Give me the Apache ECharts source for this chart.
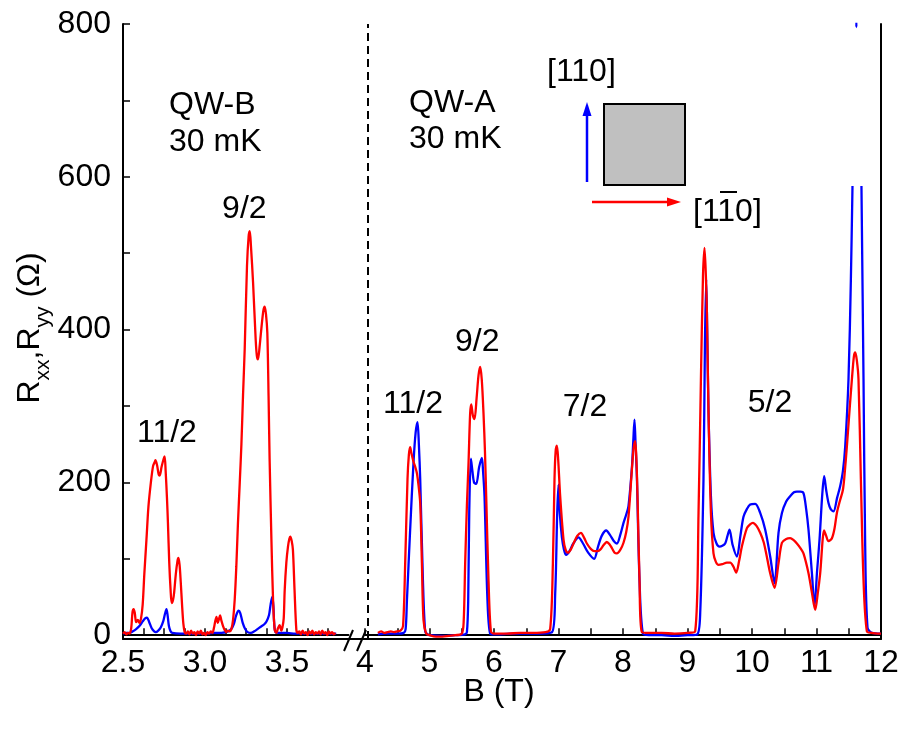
<!DOCTYPE html>
<html>
<head>
<meta charset="utf-8">
<script src="https://cdn.jsdelivr.net/npm/echarts@6/dist/echarts.min.js"></script>
<style>
html, body { margin: 0; padding: 0; background: #fff; }
#chart { width: 903px; height: 734px; }
</style>
</head>
<body>
<div id="chart"></div>
<script>
// ---- QW-B (30 mK), low-field window ----
const qwbRedField = [2.500,2.510,2.520,2.530,2.540,2.550,2.558,2.565,2.572,2.580,2.590,2.600,2.610,2.620,2.630,2.643,2.655,2.670,2.683,2.692,2.698,2.708,2.718,2.724,2.735,2.748,2.754,2.760,2.768,2.774,2.782,2.790,2.797,2.805,2.812,2.822,2.832,2.838,2.845,2.852,2.860,2.868,2.876,2.885,2.895,2.905,2.915,2.925,2.935,2.945,2.955,2.965,2.975,2.985,2.995,3.005,3.015,3.025,3.035,3.045,3.055,3.062,3.070,3.078,3.085,3.092,3.100,3.110,3.120,3.130,3.140,3.150,3.161,3.171,3.181,3.191,3.201,3.212,3.222,3.232,3.242,3.256,3.266,3.273,3.280,3.293,3.309,3.316,3.323,3.334,3.344,3.356,3.364,3.372,3.380,3.388,3.394,3.405,3.415,3.425,3.435,3.445,3.455,3.465,3.472,3.480,3.486,3.496,3.506,3.514,3.520,3.528,3.536,3.546,3.557,3.565,3.575,3.585,3.595,3.605,3.615,3.625,3.635,3.645,3.655,3.665,3.675,3.685,3.695,3.705,3.715,3.725,3.735,3.745,3.755,3.765,3.775,3.785,3.795];
const qwbRedRes   = [2,4,1,3,2,9,30,34,29,17,20,16,22,40,80,125,168,200,221,226,229,222,210,209,220,231,234,215,180,147,95,60,42,46,56,80,97,101,92,70,40,15,4,2,5,1,6,2,4,0,5,2,6,1,3,0,4,2,5,3,10,18,24,16,21,26,19,12,7,4,6,5,8,20,46,90,147,200,250,315,374,483,522,529,510,462,387,366,361,380,402,425,430,420,396,308,230,125,46,7,3,9,13,6,10,22,59,95,116,126,129,124,112,59,7,3,5,1,6,2,4,0,5,2,6,1,4,2,5,1,6,2,4,0,5,2,4,1,3];

const qwbBlueField = [2.500,2.520,2.540,2.560,2.580,2.600,2.620,2.635,2.646,2.660,2.675,2.690,2.700,2.715,2.730,2.745,2.755,2.765,2.772,2.780,2.790,2.800,2.850,2.900,2.950,3.000,3.050,3.100,3.140,3.160,3.175,3.190,3.205,3.215,3.230,3.245,3.260,3.280,3.300,3.320,3.340,3.360,3.375,3.390,3.400,3.410,3.417,3.422,3.430,3.450,3.500,3.550,3.600,3.700,3.800];
const qwbBlueRes   = [2,3,3,5,8,12,18,22,23,17,9,5,4,6,10,18,27,34,26,12,5,3,2,2,2,2,3,3,5,8,14,26,32,29,16,8,4,3,5,8,11,14,18,26,40,50,38,15,4,3,3,2,2,2,2];

// ---- QW-A (30 mK), high-field window ----
const qwaRedField = [4.200,4.250,4.300,4.350,4.400,4.450,4.500,4.550,4.590,4.623,4.659,4.680,4.700,4.720,4.752,4.780,4.805,4.830,4.856,4.882,4.907,4.949,5.000,5.100,5.200,5.300,5.400,5.500,5.530,5.553,5.580,5.605,5.630,5.647,5.672,5.698,5.730,5.760,5.786,5.810,5.837,5.860,5.879,5.915,5.952,6.000,6.200,6.400,6.600,6.800,6.871,6.913,6.938,6.955,6.975,6.995,7.026,7.078,7.110,7.146,7.190,7.233,7.290,7.347,7.400,7.440,7.500,7.558,7.600,7.647,7.700,7.750,7.790,7.828,7.870,7.905,7.960,8.008,8.050,8.085,8.138,8.165,8.189,8.208,8.225,8.256,8.293,8.400,8.600,8.800,9.000,9.119,9.171,9.208,9.240,9.264,9.285,9.301,9.326,9.363,9.403,9.440,9.481,9.540,9.611,9.662,9.710,9.755,9.800,9.843,9.921,9.970,10.014,10.070,10.127,10.180,10.220,10.282,10.349,10.411,10.464,10.530,10.592,10.650,10.696,10.750,10.798,10.876,10.930,10.980,11.020,11.057,11.119,11.150,11.186,11.239,11.280,11.316,11.360,11.409,11.440,11.471,11.510,11.549,11.580,11.600,11.625,11.651,11.688,11.729,11.781,11.850,11.950,12.000];
const qwaRedRes   = [3,5,3,4,5,4,5,6,12,94,204,236,246,238,227,220,212,196,173,95,20,2,0,-2,-2,-1,0,2,18,94,170,225,290,302,288,283,310,340,351,335,291,240,182,72,5,2,2,3,3,4,8,94,204,240,248,230,182,125,112,108,112,120,130,134,127,120,113,110,110,112,118,122,119,114,108,107,112,121,135,155,217,245,254,230,182,72,4,3,3,2,3,5,160,335,470,507,470,422,291,160,107,96,92,93,95,95,90,82,97,116,140,145,147,143,134,122,107,81,62,94,121,126,127,124,120,114,107,81,55,33,55,81,137,130,123,127,140,160,175,190,215,247,292,335,365,370,360,335,204,72,5,3,2,2];

const qwaBlueField = [4.200,4.300,4.400,4.500,4.600,4.630,4.650,4.700,4.752,4.785,4.814,4.835,4.856,4.898,4.933,4.970,5.000,5.200,5.400,5.550,5.580,5.600,5.616,5.642,5.665,5.690,5.724,5.770,5.812,5.830,5.853,5.899,5.940,6.000,6.300,6.600,6.900,6.949,6.980,7.000,7.020,7.053,7.085,7.119,7.170,7.230,7.310,7.380,7.460,7.553,7.610,7.670,7.740,7.800,7.860,7.905,7.960,8.008,8.050,8.085,8.138,8.160,8.178,8.195,8.215,8.256,8.309,8.400,8.600,8.800,9.000,9.150,9.197,9.248,9.270,9.290,9.305,9.326,9.363,9.403,9.450,9.496,9.540,9.584,9.620,9.651,9.700,9.766,9.820,9.868,9.920,9.972,10.050,10.127,10.205,10.282,10.349,10.411,10.464,10.530,10.592,10.650,10.696,10.750,10.798,10.840,10.876,10.930,10.969,11.010,11.047,11.090,11.119,11.150,11.186,11.220,11.264,11.320,11.367,11.410,11.445,11.496,11.533,11.558,11.600,11.613,11.618,11.623,11.650,11.697,11.729,11.755,11.791,11.860,12.000];
const qwaBlueRes   = [1,2,2,2,3,8,45,138,226,265,279,250,204,72,5,1,0,-1,0,1,4,45,160,231,215,200,198,220,232,215,182,45,2,1,2,2,4,55,160,197,160,128,112,105,110,120,128,120,108,100,115,130,137,131,123,120,132,147,158,169,219,255,282,250,208,72,2,0,0,-1,0,1,29,204,380,466,400,291,182,134,120,116,117,120,130,138,118,103,130,155,165,171,172,160,138,103,68,134,160,175,182,187,188,188,186,165,138,80,38,85,125,185,208,190,173,165,162,180,195,215,247,335,466,588,'-',820,796,820,'-',588,335,116,10,3,2];

// ---- axis ticks and labels ----
const lowFieldLabels  = [2.5, 3.0, 3.5];
const lowFieldTicks   = [2.5,2.625,2.75,2.875,3.0,3.125,3.25,3.375,3.5,3.625,3.75];
const highFieldLabels = [4,5,6,7,8,9,10,11,12];
const highFieldTicks  = [4,4.5,5,5.5,6,6.5,7,7.5,8,8.5,9,9.5,10,10.5,11,11.5,12];
const resLabels = [0, 200, 400, 600, 800];
const resTicks  = [0, 100, 200, 300, 400, 500, 600, 700, 800];

// ---- filling-factor annotations: [text, field, resistance] ----
const qwbPeakLabels = [['11/2', 2.768, 264], ['9/2', 3.24, 557]];
const qwaPeakLabels = [['11/2', 4.745, 303], ['9/2', 5.74, 383], ['7/2', 7.41, 298], ['5/2', 10.28, 304]];

const RED = '#ff0000';
const BLUE = '#0000ff';
const FONT = '"Liberation Sans", Arial, Helvetica, sans-serif';
const FS = 32;

const pairs = (b, r) => b.map((v, i) => [v, r[i]]);

const chart = echarts.init(document.getElementById('chart'), null, { renderer: 'canvas' });

const axisLineStyle = { show: true, lineStyle: { color: '#000', width: 2 } };
const tickStyle = { lineStyle: { color: '#000', width: 1.5 } };

const plainText = (x, y, text, align) => ({
  type: 'text', x, y, z: 20,
  style: {
    text, font: FS + 'px ' + FONT, fill: '#000',
    textAlign: align, textVerticalAlign: 'middle', align, verticalAlign: 'middle'
  }
});

const graphics = [
  // axis break marks
  { type: 'line', shape: { x1: 344, y1: 651, x2: 353, y2: 630 }, style: { stroke: '#000', lineWidth: 2 }, z: 10 },
  { type: 'line', shape: { x1: 357, y1: 651, x2: 366, y2: 630 }, style: { stroke: '#000', lineWidth: 2 }, z: 10 },
  // axis titles
  plainText(499, 692, 'B (T)', 'center'),
  { type: 'text', x: 32, y: 328, rotation: Math.PI / 2,
    style: {
      text: '{m|R}{s|xx}{m|,R}{s|yy}{m| (Ω)}',
      fill: '#000', textAlign: 'center', textVerticalAlign: 'middle', align: 'center', verticalAlign: 'middle',
      rich: {
        m: { fontFamily: FONT, fontSize: FS, lineHeight: 36, verticalAlign: 'top', fill: '#000' },
        s: { fontFamily: FONT, fontSize: 21, lineHeight: 22, padding: [19, 0, 0, 0], verticalAlign: 'top', fill: '#000' }
      }
    } },
  // sample annotations
  plainText(169, 105, 'QW-B', 'left'),
  plainText(169, 142, '30 mK', 'left'),
  plainText(409, 103, 'QW-A', 'left'),
  plainText(409, 139, '30 mK', 'left'),
  // crystal orientation sketch
  { type: 'rect', shape: { x: 604, y: 104, width: 81, height: 81 }, style: { fill: '#c0c0c0', stroke: '#000', lineWidth: 2 } },
  { type: 'line', shape: { x1: 587, y1: 182, x2: 587, y2: 112 }, style: { stroke: BLUE, lineWidth: 2.5 } },
  { type: 'polygon', shape: { points: [[587, 102], [582.5, 116], [591.5, 116]] }, style: { fill: BLUE } },
  { type: 'line', shape: { x1: 592, y1: 202, x2: 670, y2: 202 }, style: { stroke: RED, lineWidth: 2.5 } },
  { type: 'polygon', shape: { points: [[681, 202], [667, 197.5], [667, 206.5]] }, style: { fill: RED } },
  plainText(547, 72, '[110]', 'left'),
  plainText(693, 212, '[110]', 'left'),
  { type: 'line', shape: { x1: 720, y1: 192, x2: 737, y2: 192 }, style: { stroke: '#000', lineWidth: 2 } }
];

const option = {
  animation: false,
  backgroundColor: '#fff',
  grid: [
    { left: 123, top: 24, width: 225.5, bottom: 95, containLabel: false },
    { left: 365, top: 24, right: 22, bottom: 95, containLabel: false },
    { left: 123, top: 24, right: 22, bottom: 95, containLabel: false }
  ],
  xAxis: [
    {
      type: 'value', gridIndex: 0, min: 2.5, max: 3.875,
      axisLine: axisLineStyle,
      axisTick: { show: true, inside: true, length: 7, customValues: lowFieldTicks, ...tickStyle },
      axisLabel: { show: true, customValues: lowFieldLabels, formatter: v => v.toFixed(1),
                   fontFamily: FONT, fontSize: FS, color: '#000', margin: 8 },
      splitLine: { show: false }
    },
    {
      type: 'value', gridIndex: 1, min: 4, max: 12,
      axisLine: axisLineStyle,
      axisTick: { show: true, inside: true, length: 7, customValues: highFieldTicks, ...tickStyle },
      axisLabel: { show: true, customValues: highFieldLabels, formatter: v => String(v),
                   fontFamily: FONT, fontSize: FS, color: '#000', margin: 8 },
      splitLine: { show: false }
    },
    {
      type: 'value', gridIndex: 2, min: 0, max: 1, position: 'top',
      axisLine: axisLineStyle, axisTick: { show: false }, axisLabel: { show: false },
      splitLine: { show: false }
    }
  ],
  yAxis: [
    {
      type: 'value', gridIndex: 0, min: -5, max: 800,
      axisLine: axisLineStyle,
      axisTick: { show: true, inside: true, length: 7, customValues: resTicks, ...tickStyle },
      axisLabel: { show: true, customValues: resLabels, fontFamily: FONT, fontSize: FS, color: '#000', margin: 12 },
      splitLine: { show: false }
    },
    {
      type: 'value', gridIndex: 1, min: -5, max: 800, position: 'right',
      axisLine: axisLineStyle, axisTick: { show: false }, axisLabel: { show: false },
      splitLine: { show: false }
    },
    { type: 'value', gridIndex: 2, min: 0, max: 1, show: false }
  ],
  series: [
    {
      name: 'QW-B [110]', type: 'line', xAxisIndex: 0, yAxisIndex: 0,
      data: pairs(qwbBlueField, qwbBlueRes), showSymbol: false, smooth: 0.3,
      lineStyle: { color: BLUE, width: 2.3 }, z: 2
    },
    {
      name: 'QW-B [1-10]', type: 'line', xAxisIndex: 0, yAxisIndex: 0,
      data: pairs(qwbRedField, qwbRedRes), showSymbol: false, smooth: 0.3,
      lineStyle: { color: RED, width: 2.3 }, z: 3
    },
    {
      name: 'QW-A [110]', type: 'line', xAxisIndex: 1, yAxisIndex: 1,
      data: pairs(qwaBlueField, qwaBlueRes), showSymbol: false, smooth: 0.3, connectNulls: false,
      lineStyle: { color: BLUE, width: 2.3 }, z: 2
    },
    {
      name: 'QW-A [1-10]', type: 'line', xAxisIndex: 1, yAxisIndex: 1,
      data: pairs(qwaRedField, qwaRedRes), showSymbol: false, smooth: 0.3,
      lineStyle: { color: RED, width: 2.3 }, z: 3,
      markLine: {
        silent: true, symbol: 'none', label: { show: false },
        lineStyle: { color: '#000', width: 2, type: [8, 5] },
        data: [{ xAxis: 4.05 }]
      }
    }
  ],
  graphic: graphics
};

chart.setOption(option);

// place the filling-factor labels through each panel's own scales
const peakTexts = [];
[[qwbPeakLabels, 0], [qwaPeakLabels, 1]].forEach(([list, idx]) => {
  list.forEach(d => {
    const p = chart.convertToPixel({ xAxisIndex: idx, yAxisIndex: idx }, [d[1], d[2]]);
    peakTexts.push(plainText(p[0], p[1], d[0], 'center'));
  });
});
chart.setOption({ graphic: graphics.concat(peakTexts) });
</script>
</body>
</html>
